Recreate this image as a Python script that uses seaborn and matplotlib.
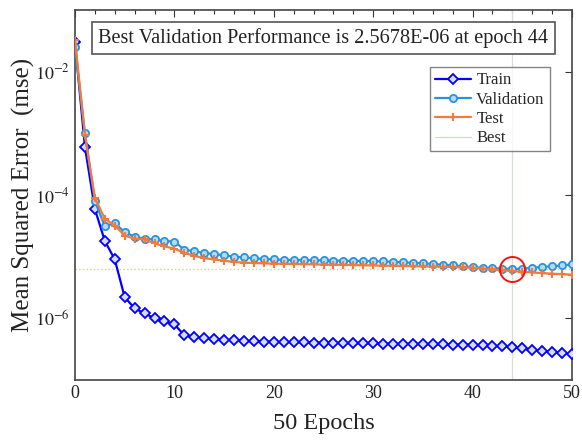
import numpy as np
import pandas as pd
import matplotlib
matplotlib.use("Agg")
import matplotlib.pyplot as plt
import seaborn as sns
from matplotlib.ticker import FixedLocator, MultipleLocator, FuncFormatter

epochs = list(range(51))
train = [3.0e-2, 6e-4, 5.9e-5, 1.8e-5, 9e-6, 2.2e-6, 1.45e-6, 1.2e-6, 1.0e-6, 8.9e-7,
         8.0e-7, 5.3e-7, 5.0e-7, 4.8e-7, 4.65e-7, 4.5e-7, 4.4e-7, 4.3e-7, 4.25e-7, 4.2e-7,
         4.15e-7, 4.12e-7, 4.1e-7, 4.08e-7, 4.05e-7, 4.03e-7, 4.0e-7, 3.98e-7, 3.96e-7, 3.94e-7,
         3.92e-7, 3.9e-7, 3.88e-7, 3.86e-7, 3.84e-7, 3.82e-7, 3.8e-7, 3.78e-7, 3.76e-7, 3.74e-7,
         3.72e-7, 3.65e-7, 3.58e-7, 3.5e-7, 3.4e-7, 3.25e-7, 3.1e-7, 2.95e-7, 2.85e-7, 2.75e-7,
         2.6e-7]
validation = [2.5e-2, 1.0e-3, 8e-5, 3.1e-5, 3.5e-5, 2.5e-5, 2.1e-5, 1.95e-5, 1.9e-5, 1.8e-5,
              1.75e-5, 1.3e-5, 1.22e-5, 1.15e-5, 1.1e-5, 1.05e-5, 1.0e-5, 9.7e-6, 9.4e-6, 9.2e-6,
              9.0e-6, 8.9e-6, 8.85e-6, 8.8e-6, 8.75e-6, 8.7e-6, 8.65e-6, 8.6e-6, 8.55e-6, 8.5e-6,
              8.45e-6, 8.35e-6, 8.25e-6, 8.1e-6, 7.95e-6, 7.8e-6, 7.6e-6, 7.4e-6, 7.2e-6, 7.0e-6,
              6.75e-6, 6.6e-6, 6.5e-6, 6.4e-6, 6.3e-6, 6.4e-6, 6.6e-6, 6.8e-6, 7.0e-6, 7.2e-6,
              7.5e-6]
test = [3.3e-2, 9.3e-4, 9e-5, 4.1e-5, 3.2e-5, 2.2e-5, 1.95e-5, 1.9e-5, 1.65e-5, 1.47e-5,
        1.35e-5, 1.15e-5, 1.03e-5, 9.5e-6, 9.0e-6, 8.6e-6, 8.2e-6, 8.0e-6, 7.9e-6, 7.8e-6,
        7.7e-6, 7.65e-6, 7.6e-6, 7.55e-6, 7.5e-6, 7.45e-6, 7.4e-6, 7.35e-6, 7.3e-6, 7.25e-6,
        7.2e-6, 7.15e-6, 7.1e-6, 7.05e-6, 7.0e-6, 6.95e-6, 6.9e-6, 6.85e-6, 6.8e-6, 6.7e-6,
        6.6e-6, 6.4e-6, 6.2e-6, 6.0e-6, 5.85e-6, 5.7e-6, 5.55e-6, 5.4e-6, 5.3e-6, 5.2e-6,
        5.1e-6]
best_epoch = 44
title_text = "Best Validation Performance is 2.5678E-06 at epoch 44"
series_names = ["Train", "Validation", "Test", "Best"]

sns.set_theme(style="white")
plt.rcParams["font.family"] = ["Liberation Serif", "DejaVu Serif"]
plt.rcParams["mathtext.fontset"] = "stix"

fig = plt.figure(figsize=(5.82, 4.42), dpi=100)
ax = fig.add_axes([75/582, 1-380/442, 497/582, 370/442])

df = pd.DataFrame({"epoch": epochs, "train": train, "val": validation, "test": test})

c_train = "#0000ff"
c_val = "#2a93dc"
c_test = "#f47a3c"
c_best = "#c8dcc0"

best_val = validation[best_epoch]
ax.axhline(best_val, color="#c8d890", lw=1.0, ls=":", zorder=1)
ax.axvline(best_epoch, color="#d4e0d4", lw=0.9, zorder=1)

sns.lineplot(data=df, x="epoch", y="train", ax=ax, color=c_train, lw=1.6, linestyle="-",
             marker="D", markersize=4.6, markerfacecolor="#d8dcff", markeredgecolor=c_train,
             markeredgewidth=1.3, label=series_names[0], zorder=3)
sns.lineplot(data=df, x="epoch", y="val", ax=ax, color=c_val, lw=1.6, linestyle="-",
             marker="o", markersize=5.2, markerfacecolor="#b4daf4", markeredgecolor=c_val,
             markeredgewidth=1.3, label=series_names[1], zorder=3)
sns.lineplot(data=df, x="epoch", y="test", ax=ax, color=c_test, lw=1.6, linestyle="-",
             marker="+", markersize=5.5, markeredgewidth=1.5, markeredgecolor=c_test,
             label=series_names[2], zorder=4)
ax.plot([], [], color=c_best, lw=0.8, label=series_names[3])

ax.plot([best_epoch], [best_val], marker="o", markersize=18, markerfacecolor="none",
        markeredgecolor="#ff1010", markeredgewidth=1.4, ls="none", zorder=5)

ax.set_yscale("log")
ax.set_ylim(1e-7, 1e-1)
ax.set_xlim(0, 50)
ax.yaxis.set_major_locator(FixedLocator([1e-6, 1e-4, 1e-2]))
ax.yaxis.set_minor_locator(FixedLocator([]))
ax.yaxis.set_major_formatter(FuncFormatter(lambda v, p: r"$10^{%d}$" % int(round(np.log10(v)))))
ax.xaxis.set_major_locator(MultipleLocator(10))
ax.xaxis.set_minor_locator(MultipleLocator(2))

ax.tick_params(which="both", direction="in", top=True, right=True, colors="#333333",
               labelcolor="#222222", labelsize=13, width=0.8)
ax.tick_params(which="major", length=5)
ax.tick_params(which="minor", length=3)
for s in ax.spines.values():
    s.set_color("#444444")
    s.set_linewidth(1.2)

ax.set_xlabel("50 Epochs", fontsize=17.5, color="#222222", labelpad=8)
ax.set_ylabel("Mean Squared Error  (mse)", fontsize=18, color="#222222", labelpad=0)

ax.text(0.5, 0.925, title_text, transform=ax.transAxes, ha="center", va="center",
        fontsize=14.6, color="#222222",
        bbox=dict(boxstyle="square,pad=0.3", fc="white", ec="#555555", lw=1.2), zorder=6)

leg = ax.legend(loc="upper right", bbox_to_anchor=(0.955, 0.845), fontsize=12,
                frameon=True, fancybox=False, edgecolor="#666666", borderpad=0.3,
                handlelength=2.2, handletextpad=0.3, labelspacing=0.2, borderaxespad=0)
leg.get_frame().set_linewidth(1.0)

fig.savefig("out.png", dpi=100)
